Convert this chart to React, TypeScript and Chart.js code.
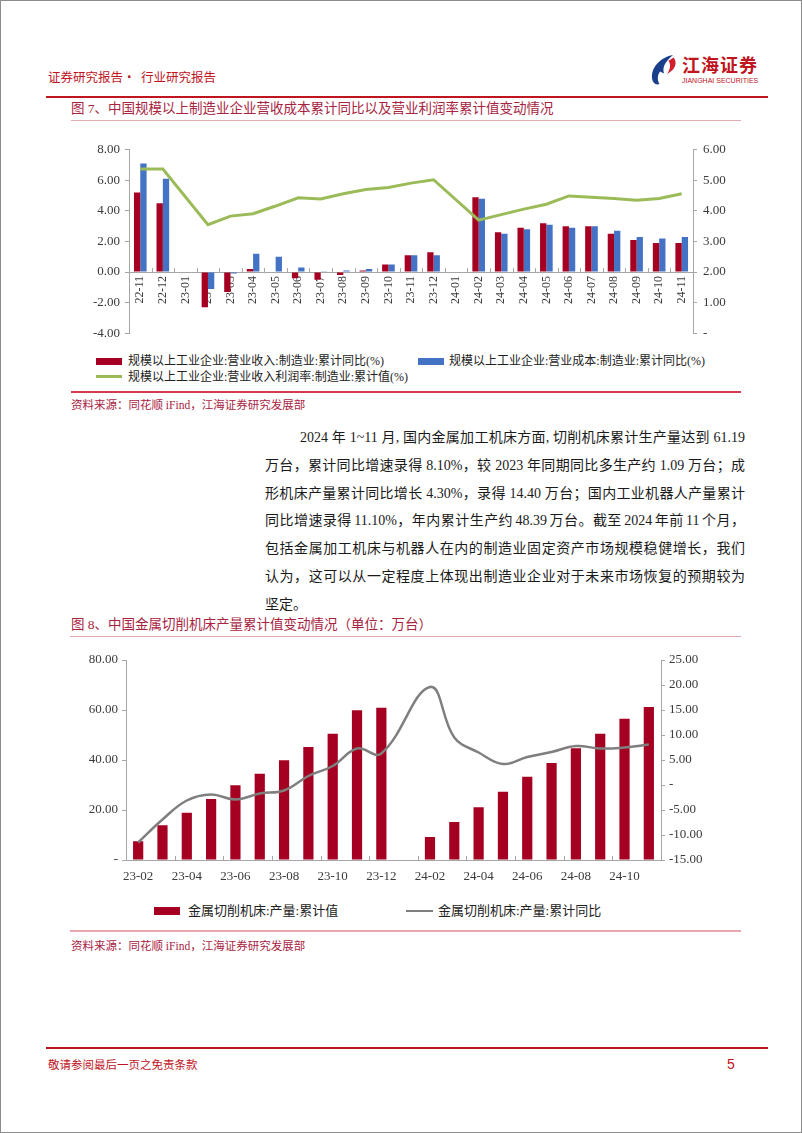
import React, { useEffect, useRef } from "react";
import { Chart, registerables } from "chart.js";

Chart.register(...registerables);

// ---------- Figure 7 data ----------
const months1 = [
  "22-11", "22-12", "23-01", "23-02", "23-03", "23-04", "23-05", "23-06", "23-07",
  "23-08", "23-09", "23-10", "23-11", "23-12", "24-01", "24-02", "24-03", "24-04",
  "24-05", "24-06", "24-07", "24-08", "24-09", "24-10", "24-11",
];
const revenueYoY = [5.2, 4.5, null, -2.3, -1.3, 0.2, 0, -0.4, -0.5, -0.2, 0.1, 0.5, 1.1, 1.3, null, 4.9, 2.6, 2.9, 3.2, 3.0, 3.0, 2.5, 2.1, 1.9, 1.9];
const costYoY = [7.1, 6.1, null, -1.1, -0.1, 1.2, 1.0, 0.3, 0.02, 0.1, 0.2, 0.5, 1.1, 1.1, null, 4.8, 2.5, 2.8, 3.1, 2.9, 3.0, 2.7, 2.3, 2.2, 2.3];
const profitMargin = [5.37, 5.37, null, 3.55, 3.83, 3.91, 4.16, 4.43, 4.39, 4.56, 4.7, 4.77, 4.91, 5.02, null, 3.7, 3.88, 4.06, 4.22, 4.49, 4.45, 4.41, 4.35, 4.41, 4.56];
const legend1 = [
  "规模以上工业企业:营业收入:制造业:累计同比(%)",
  "规模以上工业企业:营业成本:制造业:累计同比(%)",
  "规模以上工业企业:营业收入利润率:制造业:累计值(%)",
];

// ---------- Figure 8 data ----------
const months2 = [
  "23-02", "23-03", "23-04", "23-05", "23-06", "23-07", "23-08", "23-09", "23-10", "23-11", "23-12",
  "24-01", "24-02", "24-03", "24-04", "24-05", "24-06", "24-07", "24-08", "24-09", "24-10", "24-11",
];
const cuttingOutput = [7.5, 13.9, 18.9, 24.4, 29.9, 34.5, 39.9, 45.2, 50.5, 59.9, 60.9, null, 9.2, 15.2, 21.1, 27.3, 33.3, 38.8, 44.7, 50.5, 56.5, 61.19];
const cuttingYoY = [-11.5, -6.9, -3.1, -1.9, -2.9, -1.7, -1.1, 1.8, 3.8, 7.3, 6.3, null, 19.6, 9.5, 6.5, 4.2, 5.6, 6.6, 7.8, 7.3, 7.5, 8.1];
const legend2 = ["金属切削机床:产量:累计值", "金属切削机床:产量:累计同比"];

const paragraph = [
  "2024 年 1~11 月, 国内金属加工机床方面, 切削机床累计生产量达到 61.19",
  "万台，累计同比增速录得 8.10%，较 2023 年同期同比多生产约 1.09 万台；成",
  "形机床产量累计同比增长 4.30%，录得 14.40 万台；国内工业机器人产量累计",
  "同比增速录得 11.10%，年内累计生产约 48.39 万台。截至 2024 年前 11 个月，",
  "包括金属加工机床与机器人在内的制造业固定资产市场规模稳健增长，我们",
  "认为，这可以从一定程度上体现出制造业企业对于未来市场恢复的预期较为",
  "坚定。",
];

// ---------- styles ----------
const RED = "#A50021";
const BLUE = "#4472C4";
const GREEN = "#9BBB59";
const GRAY_LINE = "#7F7F7F";
const AXIS = "#A6A6A6";
const TICK_TXT = "#3A3A3A";
const BRAND = "#C0141E";
const TITLE = "#A8233F";
const SERIF = "'Liberation Serif', 'Times New Roman', serif";
const MIX = "'Liberation Serif', 'Noto Sans CJK SC', serif";
const CJK = "'Noto Sans CJK SC', 'Noto Sans', sans-serif";

const innerTicks = {
  id: "innerTicks",
  afterDatasetsDraw(chart: any, _a: any, opts: any) {
    const xs = chart.scales.x;
    const ys = chart.scales.y;
    const y0 = ys.getPixelForValue(0);
    const ctx = chart.ctx;
    ctx.save();
    ctx.strokeStyle = opts.color || AXIS;
    ctx.lineWidth = 1;
    for (let k = opts.start; k <= xs.max + 0.5001; k += opts.step) {
      const px = Math.round(xs.getPixelForValue(k)) + 0.5;
      ctx.beginPath();
      ctx.moveTo(px, y0);
      ctx.lineTo(px, y0 - opts.len);
      ctx.stroke();
    }
    ctx.restore();
  },
};

function Chart1() {
  const ref = useRef<HTMLCanvasElement>(null);
  useEffect(() => {
    const chart = new Chart(ref.current as HTMLCanvasElement, {
      type: "bar",
      data: {
        labels: months1,
        datasets: [
          {
            type: "line",
            label: legend1[2],
            data: profitMargin,
            yAxisID: "y1",
            borderColor: GREEN,
            backgroundColor: GREEN,
            borderWidth: 3,
            pointRadius: 0,
            spanGaps: true,
            tension: 0,
            order: 0,
          } as any,
          {
            type: "bar",
            label: legend1[0],
            data: revenueYoY,
            yAxisID: "y",
            backgroundColor: RED,
            categoryPercentage: 0.56,
            barPercentage: 1,
            order: 1,
          },
          {
            type: "bar",
            label: legend1[1],
            data: costYoY,
            yAxisID: "y",
            backgroundColor: BLUE,
            categoryPercentage: 0.56,
            barPercentage: 1,
            order: 1,
          },
        ],
      },
      options: {
        responsive: false,
        animation: false,
        layout: { padding: { top: 10, bottom: 11, left: 0, right: 0 } },
        plugins: {
          legend: { display: false },
          tooltip: { enabled: false },
          innerTicks: { start: -0.5, step: 1, len: 4, color: AXIS },
        } as any,
        scales: {
          x: {
            type: "category",
            position: { y: 0 } as any,
            offset: true,
            grid: { display: true, drawOnChartArea: false, drawTicks: false },
            border: { display: true, color: AXIS, width: 1 },
            ticks: {
              autoSkip: false,
              minRotation: 90,
              maxRotation: 90,
              padding: 4,
              color: TICK_TXT,
              font: { family: SERIF, size: 12 },
            },
            afterFit: (s: any) => {
              s.height = 0;
            },
          } as any,
          y: {
            position: "left",
            min: -4,
            max: 8,
            ticks: {
              stepSize: 2,
              padding: 5,
              color: TICK_TXT,
              font: { family: SERIF, size: 13 },
              callback: (v: any) => Number(v).toFixed(2),
            },
            grid: { drawOnChartArea: false, tickLength: 4, color: AXIS },
            border: { color: AXIS, width: 1 },
            afterFit: (s: any) => {
              s.width = 88;
            },
          } as any,
          y1: {
            position: "right",
            min: 0,
            max: 6,
            ticks: {
              stepSize: 1,
              padding: 6,
              color: TICK_TXT,
              font: { family: SERIF, size: 13 },
              callback: (v: any) => (Number(v) === 0 ? "-" : Number(v).toFixed(2)),
            },
            grid: { drawOnChartArea: false, tickLength: 4, color: AXIS },
            border: { color: AXIS, width: 1 },
            afterFit: (s: any) => {
              s.width = 60;
            },
          } as any,
        },
      },
      plugins: [innerTicks as any],
    });
    return () => chart.destroy();
  }, []);
  return (
    <canvas
      ref={ref}
      width={712}
      height={211}
      style={{ position: "absolute", left: 40, top: 135, width: 712, height: 211 }}
    />
  );
}

function Chart2() {
  const ref = useRef<HTMLCanvasElement>(null);
  useEffect(() => {
    const chart = new Chart(ref.current as HTMLCanvasElement, {
      type: "bar",
      data: {
        labels: months2,
        datasets: [
          {
            type: "line",
            label: legend2[1],
            data: cuttingYoY,
            yAxisID: "y1",
            borderColor: GRAY_LINE,
            backgroundColor: GRAY_LINE,
            borderWidth: 2.5,
            pointRadius: 0,
            spanGaps: true,
            tension: 0.4,
            order: 0,
          } as any,
          {
            type: "bar",
            label: legend2[0],
            data: cuttingOutput,
            yAxisID: "y",
            backgroundColor: RED,
            categoryPercentage: 1,
            barPercentage: 0.42,
            order: 1,
          },
        ],
      },
      options: {
        responsive: false,
        animation: false,
        layout: { padding: { top: 14, bottom: 0, left: 0, right: 0 } },
        plugins: {
          legend: { display: false },
          tooltip: { enabled: false },
          innerTicks: { start: 1.5, step: 2, len: 4, color: AXIS },
        } as any,
        scales: {
          x: {
            type: "category",
            position: "bottom",
            offset: true,
            grid: { display: true, drawOnChartArea: false, drawTicks: false },
            border: { display: true, color: AXIS, width: 1 },
            ticks: {
              autoSkip: false,
              maxRotation: 0,
              minRotation: 0,
              padding: 9,
              color: TICK_TXT,
              font: { family: SERIF, size: 13 },
              callback: function (this: any, v: any, i: number) {
                return i % 2 === 0 ? this.getLabelForValue(v) : "";
              },
            },
            afterFit: (s: any) => {
              s.height = 36;
            },
          } as any,
          y: {
            position: "left",
            min: 0,
            max: 80,
            ticks: {
              stepSize: 20,
              padding: 4,
              color: TICK_TXT,
              font: { family: SERIF, size: 13 },
              callback: (v: any) => (Number(v) === 0 ? "-" : Number(v).toFixed(2)),
            },
            grid: { drawOnChartArea: false, tickLength: 4, color: AXIS },
            border: { color: AXIS, width: 1 },
            afterFit: (s: any) => {
              s.width = 85;
            },
          } as any,
          y1: {
            position: "right",
            min: -15,
            max: 25,
            ticks: {
              stepSize: 5,
              padding: 4,
              color: TICK_TXT,
              font: { family: SERIF, size: 13 },
              callback: (v: any) => (Number(v) === 0 ? "-" : Number(v).toFixed(2)),
            },
            grid: { drawOnChartArea: false, tickLength: 4, color: AXIS },
            border: { color: AXIS, width: 1 },
            afterFit: (s: any) => {
              s.width = 100;
            },
          } as any,
        },
      },
      plugins: [innerTicks as any],
    });
    return () => chart.destroy();
  }, []);
  return (
    <canvas
      ref={ref}
      width={720}
      height={250}
      style={{ position: "absolute", left: 40, top: 645, width: 720, height: 250 }}
    />
  );
}

function T(props: {
  x: number;
  cy: number;
  size: number;
  color: string;
  font?: string;
  weight?: number | string;
  spacing?: number;
  children: React.ReactNode;
}) {
  const h = Math.round(props.size * 1.5);
  return (
    <div
      style={{
        position: "absolute",
        left: props.x,
        top: props.cy - h / 2,
        height: h,
        lineHeight: h + "px",
        fontSize: props.size,
        color: props.color,
        fontFamily: props.font || MIX,
        fontWeight: (props.weight as any) || 400,
        letterSpacing: props.spacing || 0,
        whiteSpace: "pre",
      }}
    >
      {props.children}
    </div>
  );
}

function Rule(props: { x1: number; x2: number; y: number; h: number; color: string }) {
  return (
    <div
      style={{
        position: "absolute",
        left: props.x1,
        top: props.y - props.h / 2,
        width: props.x2 - props.x1,
        height: props.h,
        background: props.color,
      }}
    />
  );
}

function Box(props: { x: number; y: number; w: number; h: number; color: string }) {
  return (
    <div
      style={{
        position: "absolute",
        left: props.x,
        top: props.y,
        width: props.w,
        height: props.h,
        background: props.color,
      }}
    />
  );
}

export default function App() {
  const lineH = 27.8;
  return (
    <div
      style={{
        position: "absolute",
        left: 0,
        top: 0,
        width: 802,
        height: 1133,
        boxSizing: "border-box",
        border: "1px solid #8c8c8c",
        background: "#ffffff",
        overflow: "hidden",
      }}
    >
      {/* header */}
      <T x={47} cy={75} size={12.5} color={BRAND} font={CJK}>
        {"证券研究报告·  行业研究报告"}
      </T>
      <svg
        style={{ position: "absolute", left: 649, top: 53 }}
        width={30}
        height={32}
        viewBox="0 0 30 32"
      >
        <path
          d="M23 1 C11 3 1 13 2 24 C2.5 29 6 31.5 9.5 30 C7 26 7.5 21 10 17.5 L14 19.5 C12 13 15 8 23 1 Z"
          fill="#1C3F8C"
        />
        <path d="M23.5 3.5 C28 9 25 16 17 20 C20.5 15 21 10 18.5 7 Z" fill="#D21F2B" />
      </svg>
      <T x={681} cy={63} size={18} color={BRAND} font={CJK} weight={700} spacing={1}>
        江海证券
      </T>
      <T x={681} cy={79.5} size={7} color={BRAND} font="'Liberation Sans', Arial, sans-serif">
        JIANGHAI SECURITIES
      </T>
      <Rule x1={45} x2={767} y={96} h={2} color={BRAND} />

      {/* figure 7 */}
      <T x={70} cy={108} size={13.5} color={TITLE} font={MIX}>
        {"图 7、中国规模以上制造业企业营收成本累计同比以及营业利润率累计值变动情况"}
      </T>
      <Rule x1={70} x2={740} y={119} h={1} color="#E4AAB4" />
      <Chart1 />
      <Box x={95} y={357} w={26} h={7} color={RED} />
      <T x={127} cy={360} size={12} color="#222">
        {legend1[0]}
      </T>
      <Box x={417} y={357} w={26} h={7} color={BLUE} />
      <T x={448} cy={360} size={12} color="#222">
        {legend1[1]}
      </T>
      <Box x={95} y={374} w={26} h={3} color={GREEN} />
      <T x={127} cy={376} size={12} color="#222">
        {legend1[2]}
      </T>
      <Rule x1={70} x2={740} y={391} h={1.5} color="#D43A50" />
      <T x={70} cy={404} size={11.5} color={TITLE}>
        资料来源：同花顺 iFind，江海证券研究发展部
      </T>

      {/* paragraph */}
      <div
        style={{
          position: "absolute",
          left: 264,
          top: 437 - lineH / 2,
          width: 480,
          fontFamily: MIX,
          fontSize: 14,
          color: "#1a1a1a",
        }}
      >
        {paragraph.map((ln, i) => (
          <div
            key={i}
            style={{
              height: lineH,
              lineHeight: lineH + "px",
              whiteSpace: "nowrap",
              paddingLeft: i === 0 ? 35 : 0,
              textAlign: "justify",
              textAlignLast: i === paragraph.length - 1 ? "left" : "justify",
              wordSpacing: i === 3 ? "-1.5px" : 0,
            } as any}
          >
            {ln}
          </div>
        ))}
      </div>

      {/* figure 8 */}
      <T x={70} cy={624} size={13.5} color={TITLE} font={MIX}>
        {"图 8、中国金属切削机床产量累计值变动情况（单位：万台）"}
      </T>
      <Rule x1={69} x2={740} y={635} h={1} color="#E4AAB4" />
      <Chart2 />
      <Box x={153} y={906} w={26} h={8} color={RED} />
      <T x={187} cy={910} size={13} color="#222">
        {legend2[0]}
      </T>
      <Box x={405} y={909} w={27} h={2} color={GRAY_LINE} />
      <T x={437} cy={910} size={13} color="#222">
        {legend2[1]}
      </T>
      <Rule x1={69} x2={740} y={930} h={1.5} color="#E6A5AF" />
      <T x={70} cy={945} size={11.5} color={TITLE}>
        资料来源：同花顺 iFind，江海证券研究发展部
      </T>

      {/* footer */}
      <Rule x1={45} x2={767} y={1047} h={2} color={BRAND} />
      <T x={47} cy={1063} size={11.5} color={BRAND} font={CJK}>
        敬请参阅最后一页之免责条款
      </T>
      <T x={726} cy={1063} size={14} color={BRAND} font="'Liberation Sans', Arial, sans-serif">
        5
      </T>
    </div>
  );
}
